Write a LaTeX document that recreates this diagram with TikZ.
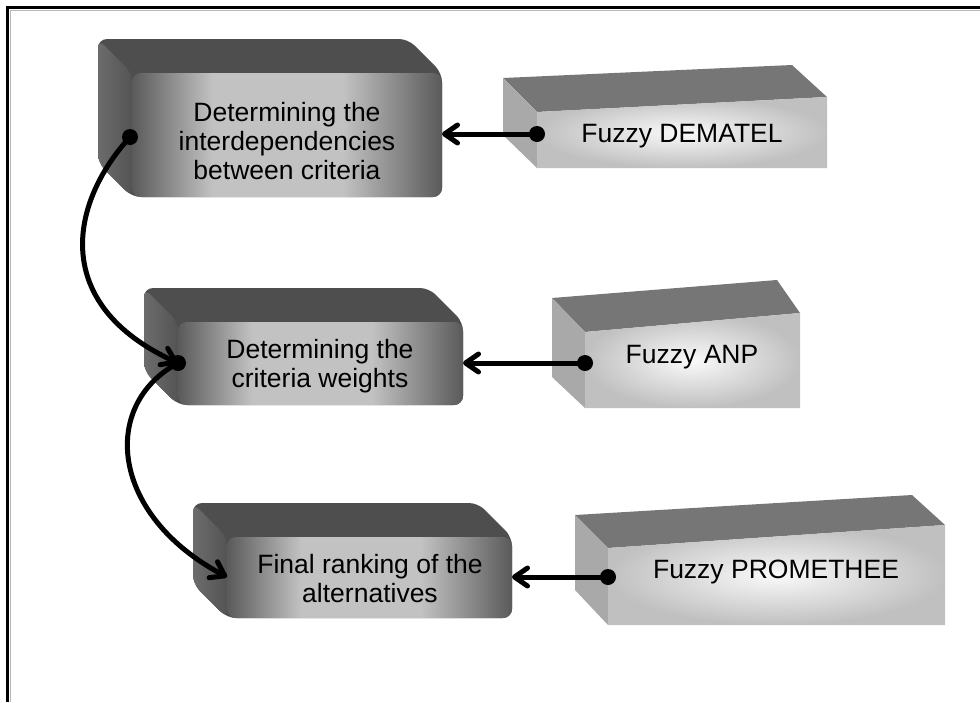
\documentclass[tikz,border=0pt]{standalone}
\usepackage{fontspec}
\setmainfont{Liberation Sans}
\usetikzlibrary{arrows.meta}
\definecolor{dtopc}{HTML}{4E4E4E}
\definecolor{dsideL}{HTML}{6C6C6C}
\definecolor{dsideR}{HTML}{545454}
\definecolor{dedge}{HTML}{5A5A5A}
\definecolor{dlight}{HTML}{C2C2C2}
\definecolor{ltopc}{HTML}{767676}
\definecolor{lsidec}{HTML}{A9A9A9}
\definecolor{lout}{HTML}{C0C0C0}
\definecolor{lin}{HTML}{FAFAFA}
\pgfdeclarehorizontalshading{darkface}{100bp}{color(0bp)=(dedge); color(25bp)=(dedge); color(38bp)=(dlight); color(59bp)=(dlight); color(75bp)=(dedge); color(100bp)=(dedge)}
\tikzset{
  dface/.style={shading=darkface, rounded corners=9pt, inner sep=0pt, outer sep=0pt},
  dtext/.style={anchor=north, align=center, inner sep=0pt, font=\fontsize{26.5}{29}\selectfont},
  ltext/.style={anchor=base, inner sep=0pt, font=\fontsize{26.5}{29}\selectfont},
  lfront/.style={inner color=lin, outer color=lout},
  conn/.style={line width=5pt, -{Straight Barb[length=13pt,width=18pt,round]}},
  dotc/.style={fill=black}
}
\newcommand\mydarkbox[6]{%
  \fill[dtopc, rounded corners=9pt] (#2-#6,#3-#6) -- (#4-#6,#3-#6) -- (#4,#3) -- (#4,#5) -- (#2,#5) -- (#2-#6,#5-#6) -- cycle;
  \shade[left color=dsideL, right color=dsideR, rounded corners=9pt] (#2-#6,#3-#6) -- (#2,#3) -- (#2,#5) -- (#2-#6,#5-#6) -- cycle;
  \node[dface, minimum width={(#4-#2)*1pt}, minimum height={(#5-#3)*1pt}] (#1) at ({(#2+#4)/2},{(#3+#5)/2}) {};
}
\begin{document}
\begin{tikzpicture}[x=1pt,y=-1pt]
\useasboundingbox (0,0) rectangle (980,702);
% frame
\draw[gray!55, line width=1pt] (10,702) -- (10,10) -- (980,10);
\draw[black, line width=3pt] (7.5,702) -- (7.5,7.5) -- (980,7.5);

% dark boxes
\mydarkbox{b1}{132}{73}{442}{197}{34}
\node[dtext] (t1) at (287,102) {Determining the\\interdependencies\\between criteria};
\mydarkbox{b2}{178}{322}{463}{405}{34}
\node[dtext] (t2) at (320,339) {Determining the\\criteria weights};
\mydarkbox{b3}{227}{537}{512}{618}{34}
\node[dtext] (t3) at (370,554) {Final ranking of the\\alternatives};

% light box A
\fill[ltopc] (503,78) -- (792,65) -- (827,97) -- (537,112) -- cycle;
\fill[lsidec] (503,78) -- (537,112) -- (537,168) -- (503,135) -- cycle;
\shade[lfront] (537,112) -- (827,97) -- (827,168) -- (537,168) -- cycle;
\node[ltext] (fA) at (682,142) {Fuzzy DEMATEL};
\coordinate (dA) at (537,134);

% light box B
\fill[ltopc] (552,298) -- (777,280) -- (800,313) -- (585,332) -- cycle;
\fill[lsidec] (552,298) -- (585,332) -- (585,408) -- (552,377) -- cycle;
\shade[lfront] (585,332) -- (800,313) -- (800,408) -- (585,408) -- cycle;
\node[ltext] (fB) at (692,363) {Fuzzy ANP};
\coordinate (dB) at (585,363);

% light box C
\fill[ltopc] (575,515) -- (912,495) -- (945,525) -- (608,548) -- cycle;
\fill[lsidec] (575,515) -- (608,548) -- (608,625) -- (575,590) -- cycle;
\shade[lfront] (608,548) -- (945,525) -- (945,625) -- (608,625) -- cycle;
\node[ltext] (fC) at (776,578) {Fuzzy PROMETHEE};
\coordinate (dC) at (608,577);

% connectors
\draw[conn] (dA) -- (b1.east |- dA);
\draw[conn] (dB) -- (b2.east |- dB);
\draw[conn] (dC) -- (b3.east |- dC);
\coordinate (s1) at (130,137);
\coordinate (s2) at (178,363);
\draw[conn] (s1) .. controls (68,205) and (52,305) .. (s2);
\draw[conn] (s2) .. controls (100,405) and (110,515) .. (b3.west |- 0,577);
\foreach \p in {dA,dB,dC,s1,s2} \fill[dotc] (\p) circle (8pt);
\end{tikzpicture}
\end{document}
